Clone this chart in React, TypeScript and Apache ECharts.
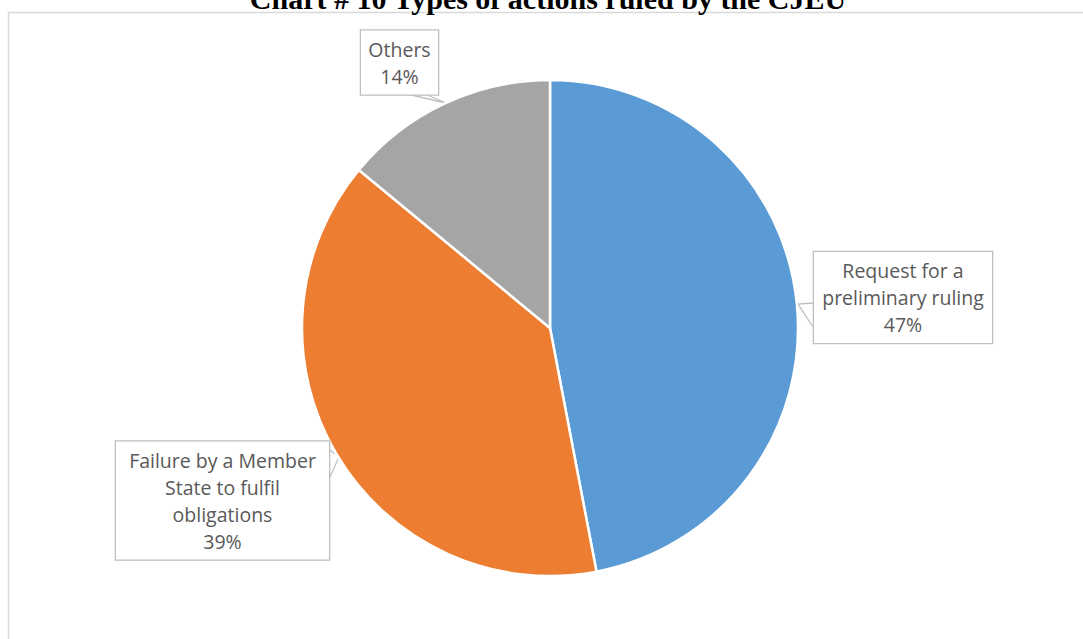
import { useEffect, useRef } from 'react';
import * as echarts from 'echarts';

const titleText = 'Chart # 10 Types of actions ruled by the CJEU';
const categories = [
  'Request for a preliminary ruling',
  'Failure by a Member State to fulfil obligations',
  'Others',
];
const values = [47, 39, 14];
const labelTexts = [
  'Request for a\npreliminary ruling',
  'Failure by a Member\nState to fulfil\nobligations',
  'Others',
];
const colors = ['#5B9BD5', '#ED7D31', '#A5A5A5'];

// callout boxes (centre, width) and their pointer notches
const callouts = [
  { cx: 903, cy: 297.5, w: 180, pointer: [[813, 303], [798, 304], [813, 327]] },
  { cx: 222.5, cy: 500.5, w: 215, pointer: [[330, 450], [339, 457], [330, 477]] },
  { cx: 399.5, cy: 62.5, w: 79, pointer: [[407, 94], [446, 103], [425, 94]] },
];

export default function App() {
  const ref = useRef<HTMLDivElement>(null);
  useEffect(() => {
    if (!ref.current) return;
    const chart = echarts.init(ref.current, undefined, { renderer: 'svg' });
    chart.setOption({
      animation: false,
      backgroundColor: '#ffffff',
      title: {
        text: titleText,
        left: 548,
        top: -17,
        textAlign: 'center',
        padding: 0,
        textStyle: {
          fontFamily: 'Liberation Serif',
          fontWeight: 'bold',
          fontSize: 30,
          color: '#000000',
        },
      },
      graphic: [
        {
          type: 'rect',
          silent: true,
          z: -10,
          shape: { x: 8.5, y: 12.5, width: 1100, height: 700 },
          style: { fill: 'none', stroke: '#d9d9d9', lineWidth: 1.5 },
        },
      ],
      series: [
        {
          type: 'pie',
          center: [550, 328],
          radius: 248,
          startAngle: 90,
          clockwise: true,
          avoidLabelOverlap: false,
          itemStyle: { borderColor: '#ffffff', borderWidth: 2.5 },
          label: {
            show: true,
            position: 'outside',
            formatter: (p: any) => `${labelTexts[p.dataIndex]}\n${Math.round(p.percent)}%`,
            fontFamily: 'Open Sans',
            fontSize: 19.5,
            lineHeight: 27,
            color: '#595959',
            align: 'center',
            backgroundColor: '#ffffff',
            borderColor: '#bfbfbf',
            borderWidth: 1.3,
            padding: [5, 0],
          },
          labelLine: {
            show: true,
            lineStyle: { color: '#bfbfbf', width: 1.3 },
          },
          labelLayout: (params: any) => {
            const c = callouts[params.dataIndex];
            return {
              x: c.cx,
              y: c.cy,
              align: 'center',
              verticalAlign: 'middle',
              labelLinePoints: c.pointer,
            };
          },
          data: categories.map((name, i) => ({
            name,
            value: values[i],
            itemStyle: { color: colors[i] },
            label: { width: callouts[i].w - 2 },
          })),
        },
      ],
    });
    return () => chart.dispose();
  }, []);
  return (
    <div
      ref={ref}
      style={{ position: 'absolute', left: 0, top: 0, width: 1083, height: 639 }}
    />
  );
}
